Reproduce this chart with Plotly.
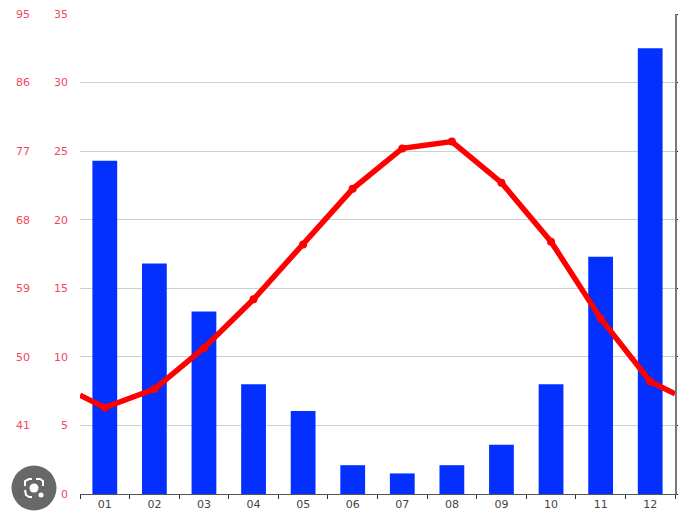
import plotly.graph_objects as go

months = ["01", "02", "03", "04", "05", "06", "07", "08", "09", "10", "11", "12"]
rain = [24.3, 16.8, 13.3, 8.0, 6.05, 2.1, 1.5, 2.1, 3.6, 8.0, 17.3, 32.5]
temp = [6.3, 7.65, 10.65, 14.2, 18.2, 22.25, 25.2, 25.7, 22.7, 18.4, 12.8, 8.2]
temp_left_edge = 7.2
temp_right_edge = 7.3
c_ticks = [0, 5, 10, 15, 20, 25, 30, 35]
f_ticks = [32, 41, 50, 59, 68, 77, 86, 95]

W, H = 678, 515
L, T, PW, PH = 80, 14, 595, 480
idx = list(range(len(months)))
FONT = "DejaVu Sans"
RED = "#f2485c"

fig = go.Figure()
fig.add_trace(go.Bar(x=idx, y=rain, width=0.5, marker=dict(color="#0330ff", line_width=0),
                     hoverinfo="skip"))
fig.add_trace(go.Scatter(x=[-0.5] + idx + [len(idx) - 0.5],
                         y=[temp_left_edge] + temp + [temp_right_edge],
                         mode="lines", line=dict(color="#ff0000", width=5.5), hoverinfo="skip"))
fig.add_trace(go.Scatter(x=idx, y=temp, mode="markers",
                         marker=dict(color="#ff0000", size=8), hoverinfo="skip"))
# carriers so the Fahrenheit and right-hand axes are drawn
fig.add_trace(go.Scatter(x=idx[:2], y=f_ticks[:2], yaxis="y2", mode="lines",
                         line=dict(width=0), hoverinfo="skip"))
fig.add_trace(go.Scatter(x=idx[:2], y=c_ticks[:2], yaxis="y3", mode="lines",
                         line=dict(width=0), hoverinfo="skip"))

fig.update_layout(
    width=W, height=H, showlegend=False, paper_bgcolor="white", plot_bgcolor="white",
    margin=dict(l=L, r=W - L - PW, t=T, b=H - T - PH, pad=0),
    font=dict(family=FONT, size=11),
    xaxis=dict(range=[-0.5, len(idx) - 0.5], tickvals=idx, ticktext=months, ticks="",
               tickfont=dict(color="#444444", size=11), showgrid=False, zeroline=False,
               showline=True, linecolor="#555555", linewidth=1,
               minor=dict(tickvals=[i - 0.5 for i in idx] + [len(idx) - 0.5],
                          ticks="outside", ticklen=4, tickcolor="#333333", tickwidth=1, showgrid=False)),
    yaxis=dict(range=[0, 35], tickvals=c_ticks, ticks="", showgrid=True, gridcolor="#cfcfcf",
               gridwidth=1, zeroline=False, showline=False, automargin=False,
               tickfont=dict(color=RED, size=11), ticklabelstandoff=11),
    yaxis2=dict(range=[32, 95], tickvals=f_ticks, overlaying="y", side="left", anchor="x",
                showgrid=False, zeroline=False, showline=False, ticks="", automargin=False,
                tickfont=dict(color=RED, size=11), ticklabelstandoff=49),
    yaxis3=dict(range=[0, 35], tickvals=c_ticks, overlaying="y", side="right", anchor="x",
                showgrid=False, zeroline=False, showline=True, linecolor="#777777", linewidth=1.5,
                ticks="outside", ticklen=3, tickcolor="#222222", showticklabels=False,
                automargin=False),
)

# image-search badge in the lower-left corner of the reference
def px(x): return (x - L) / PW
def py(y): return (T + PH - y) / PH
def circ(cx, cy, r, color, opacity=1):
    return dict(type="circle", xref="paper", yref="paper", x0=px(cx - r), x1=px(cx + r),
                y0=py(cy + r), y1=py(cy - r), fillcolor=color, line_width=0, layer="above",
                opacity=opacity)
fig.add_shape(circ(34, 488, 22.5, "#5c5c5c", 0.93))
fig.add_shape(circ(34, 488, 4.5, "white"))
fig.add_shape(circ(41, 495, 2.5, "white"))
for pts in (((25, 486), (25, 481), (29, 479), (32, 479)),
            ((36, 479), (40, 479), (43, 481), (43, 486)),
            ((25, 490), (26, 495), (29, 497), (32, 497))):
    d = "M " + " L ".join(f"{px(a)} {py(b)}" for a, b in pts)
    fig.add_shape(type="path", path=d, xref="paper", yref="paper",
                  line=dict(color="white", width=2), layer="above")

fig.write_html("out.html", include_plotlyjs=True, config={"displayModeBar": False},
               post_script="document.body.style.margin='0';")
